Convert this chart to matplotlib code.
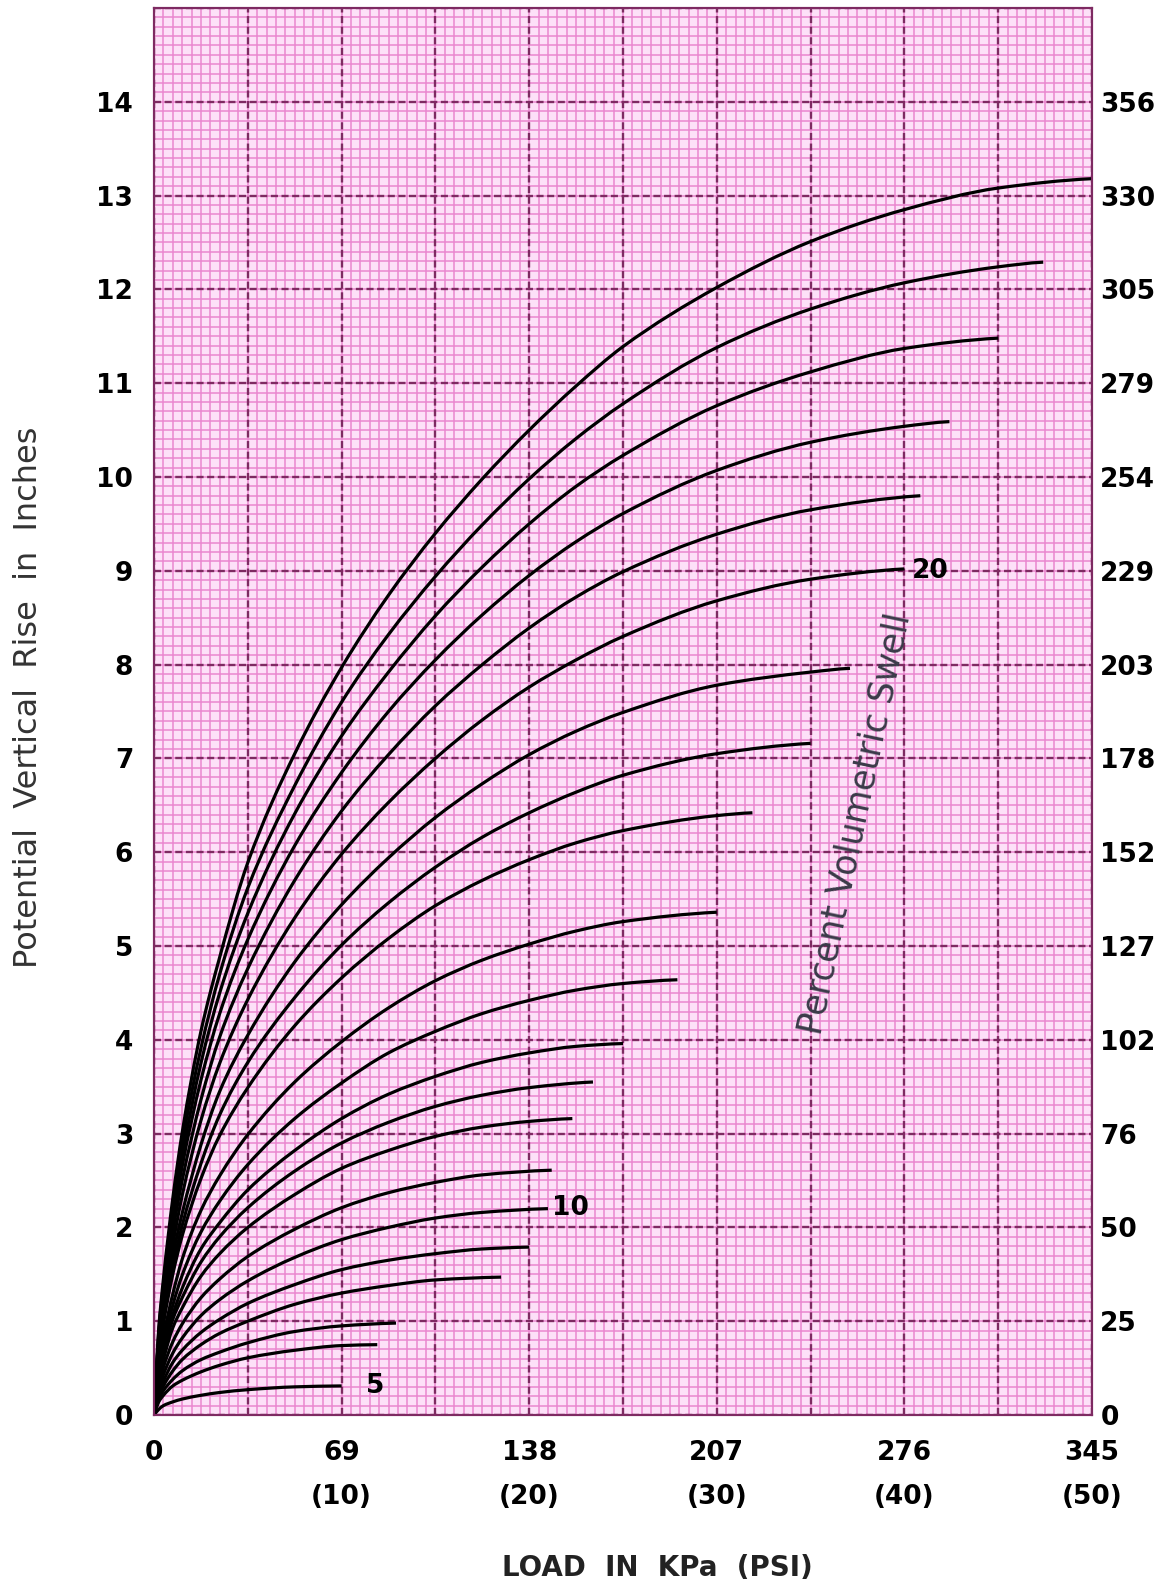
import matplotlib
matplotlib.use("Agg")
import numpy as np
import matplotlib.pyplot as plt
from matplotlib.path import Path
from matplotlib.patches import PathPatch

load_psi = [0, 0.25, 0.5, 1, 1.5, 2.5, 3.5, 5, 7.5, 10, 12.5, 15, 17.5, 20, 22.5, 25, 30, 35, 40, 45]

# potential vertical rise (inches) for each percent volumetric swell
rise_05 = [0, .06, .10, .14, .17, .21, .24, .27, .30]
rise_06 = [0, .14, .21, .31, .37, .46, .53, .61, .69, .74]
rise_07 = [0, .17, .26, .38, .47, .59, .67, .77, .89, .95]
rise_08 = [0, .20, .31, .47, .59, .75, .87, 1.00, 1.18, 1.30, 1.38, 1.44]
rise_09 = [0, .23, .36, .56, .69, .88, 1.02, 1.19, 1.39, 1.55, 1.65, 1.72, 1.77]
rise_10 = [0, .27, .43, .66, .82, 1.06, 1.23, 1.43, 1.68, 1.87, 2.00, 2.10, 2.16]
rise_11 = [0, .32, .51, .78, .97, 1.25, 1.45, 1.69, 1.98, 2.21, 2.37, 2.48, 2.56]
rise_12 = [0, .37, .59, .93, 1.14, 1.48, 1.72, 2.00, 2.35, 2.63, 2.82, 2.97, 3.07, 3.13]
rise_13 = [0, .41, .65, 1.02, 1.25, 1.63, 1.90, 2.21, 2.60, 2.90, 3.12, 3.29, 3.41, 3.49]
rise_14 = [0, .44, .69, 1.07, 1.35, 1.77, 2.05, 2.40, 2.82, 3.16, 3.42, 3.61, 3.76, 3.86, 3.93]
rise_15 = [0, .48, .76, 1.17, 1.49, 1.95, 2.28, 2.67, 3.16, 3.54, 3.86, 4.09, 4.28, 4.42, 4.53, 4.60]
rise_16 = [0, .52, .83, 1.29, 1.66, 2.18, 2.55, 2.99, 3.55, 3.98, 4.34, 4.63, 4.85, 5.02, 5.16, 5.26]
rise_17 = [0, .60, .97, 1.50, 1.91, 2.52, 2.98, 3.49, 4.15, 4.66, 5.08, 5.43, 5.70, 5.92, 6.10, 6.23, 6.39]
rise_18 = [0, .64, 1.02, 1.58, 2.02, 2.68, 3.20, 3.76, 4.45, 5.01, 5.46, 5.84, 6.16, 6.42, 6.64, 6.82, 7.05]
rise_19 = [0, .68, 1.07, 1.69, 2.15, 2.88, 3.45, 4.05, 4.83, 5.44, 5.94, 6.37, 6.73, 7.04, 7.29, 7.49, 7.78, 7.92]
rise_20 = [0, .70, 1.14, 1.81, 2.34, 3.14, 3.75, 4.43, 5.30, 5.98, 6.53, 7.00, 7.41, 7.76, 8.05, 8.30, 8.68, 8.91]
rise_21 = [0, .75, 1.22, 1.95, 2.50, 3.36, 4.03, 4.76, 5.70, 6.44, 7.04, 7.56, 8.00, 8.39, 8.72, 8.99, 9.39, 9.65]
rise_22 = [0, .79, 1.29, 2.05, 2.65, 3.57, 4.28, 5.07, 6.07, 6.85, 7.50, 8.05, 8.53, 8.95, 9.31, 9.61, 10.07, 10.37, 10.54]
rise_23 = [0, .85, 1.34, 2.15, 2.76, 3.75, 4.50, 5.35, 6.41, 7.24, 7.92, 8.52, 9.04, 9.50, 9.90, 10.23, 10.76, 11.12, 11.37]
rise_24 = [0, .89, 1.39, 2.22, 2.89, 3.91, 4.70, 5.62, 6.71, 7.60, 8.32, 8.94, 9.49, 9.98, 10.41, 10.78, 11.38, 11.79, 12.07, 12.24]
rise_25 = [0, .92, 1.45, 2.31, 3.01, 4.09, 4.88, 5.89, 7.05, 7.97, 8.74, 9.40, 9.98, 10.50, 10.97, 11.39, 12.02, 12.51, 12.85, 13.08]

# where each curve stops
end_load = [10.0, 11.9, 12.9, 18.5, 20.0, 21.0, 21.2, 22.3, 23.4, 25.0, 27.9,
            30.0, 31.9, 35.0, 37.1, 40.0, 40.85, 42.4, 45.0, 47.4, 50.0]
end_rise = [0.31, 0.75, 0.98, 1.47, 1.79, 2.20, 2.61, 3.16, 3.55, 3.96, 4.64,
            5.36, 6.42, 7.16, 7.96, 9.02, 9.80, 10.59, 11.48, 12.29, 13.18]

curves = [rise_05, rise_06, rise_07, rise_08, rise_09, rise_10, rise_11, rise_12,
          rise_13, rise_14, rise_15, rise_16, rise_17, rise_18, rise_19, rise_20,
          rise_21, rise_22, rise_23, rise_24, rise_25]

x_ticks = [0, 10, 20, 30, 40, 50]
x_labels = ["0", "69\n(10)", "138\n(20)", "207\n(30)", "276\n(40)", "345\n(50)"]
y_ticks = list(range(0, 15))
mm_labels = ["0", "25", "50", "76", "102", "127", "152", "178", "203", "229",
             "254", "279", "305", "330", "356"]


def smooth_path(xs, ys):
    # cubic bezier through the read points (pchip-style tangents, no overshoot)
    x = np.asarray(xs, float)
    y = np.asarray(ys, float)
    h = np.diff(x)
    d = np.diff(y) / h
    m = np.zeros_like(x)
    m[0] = d[0]
    m[-1] = d[-1] * 0.5
    for i in range(1, len(x) - 1):
        if d[i - 1] * d[i] <= 0:
            m[i] = 0
        else:
            w1 = 2 * h[i] + h[i - 1]
            w2 = h[i] + 2 * h[i - 1]
            m[i] = (w1 + w2) / (w1 / d[i - 1] + w2 / d[i])
    verts = [(x[0], y[0])]
    codes = [Path.MOVETO]
    for i in range(len(x) - 1):
        verts += [(x[i] + h[i] / 3, y[i] + m[i] * h[i] / 3),
                  (x[i + 1] - h[i] / 3, y[i + 1] - m[i + 1] * h[i] / 3),
                  (x[i + 1], y[i + 1])]
        codes += [Path.CURVE4] * 3
    return Path(verts, codes)


fig = plt.figure(figsize=(11.67, 15.89), dpi=100)
ax = fig.add_axes([0.132, 0.1095, 0.8037, 0.8855])
ax.set_facecolor("#fde0f8")
ax.set_xlim(0, 50)
ax.set_ylim(0, 15)

# graph paper
for xv in np.arange(0, 50.01, 0.5):
    ax.axvline(xv, color="#ea86cf", lw=1.1, zorder=1)
for yv in np.arange(0, 15.01, 0.1):
    ax.axhline(yv, color="#ea86cf", lw=1.1, zorder=1)
for xv in range(0, 51, 5):
    ax.axvline(xv, color="#7e2a62", lw=1.7, ls=(0, (3, 1.5)), zorder=2)
for yv in range(0, 16):
    ax.axhline(yv, color="#7e2a62", lw=1.7, ls=(0, (3, 1.5)), zorder=2)

for rise, xe, ye in zip(curves, end_load, end_rise):
    xs = load_psi[:len(rise)] + [xe]
    ys = rise + [ye]
    ax.add_patch(PathPatch(smooth_path(xs, ys), fill=False, edgecolor="black",
                           lw=2.3, zorder=3, capstyle="butt"))

lab = dict(fontsize=19, fontweight="bold", color="black", zorder=4)
ax.text(11.3, 0.31, "5", ha="left", va="center", **lab)
ax.text(21.2, 2.21, "10", ha="left", va="center", **lab)
ax.text(40.4, 9.0, "20", ha="left", va="center", **lab)
ax.text(37.4, 6.3, "Percent Volumetric Swell", rotation=78, rotation_mode="anchor",
        ha="center", va="center", fontsize=25, color="#3a3a48", zorder=4)

ax.set_xticks(x_ticks)
ax.set_xticklabels(x_labels, fontsize=19, fontweight="bold", linespacing=1.9)
ax.set_yticks(y_ticks)
ax.set_yticklabels([str(v) for v in y_ticks], fontsize=19, fontweight="bold")
ax.tick_params(length=0, pad=15)
ax.tick_params(axis="x", pad=18)

ax2 = ax.twinx()
ax2.set_ylim(0, 15)
ax2.set_yticks(y_ticks)
ax2.set_yticklabels(mm_labels, fontsize=19, fontweight="bold")
ax2.tick_params(length=0, pad=6)

for a in (ax, ax2):
    for s in a.spines.values():
        s.set_color("#7e2a62")
        s.set_linewidth(1.5)

fig.text(0.563, 0.0135, "LOAD  IN  KPa  (PSI)", ha="center", va="center", fontsize=20,
         fontweight="bold", color="#222222")
fig.text(0.024, 0.561, "Potential  Vertical  Rise  in  Inches", rotation=90, ha="center",
         va="center", fontsize=23, color="#333333")

fig.savefig("out.png", dpi=100, facecolor="white")
